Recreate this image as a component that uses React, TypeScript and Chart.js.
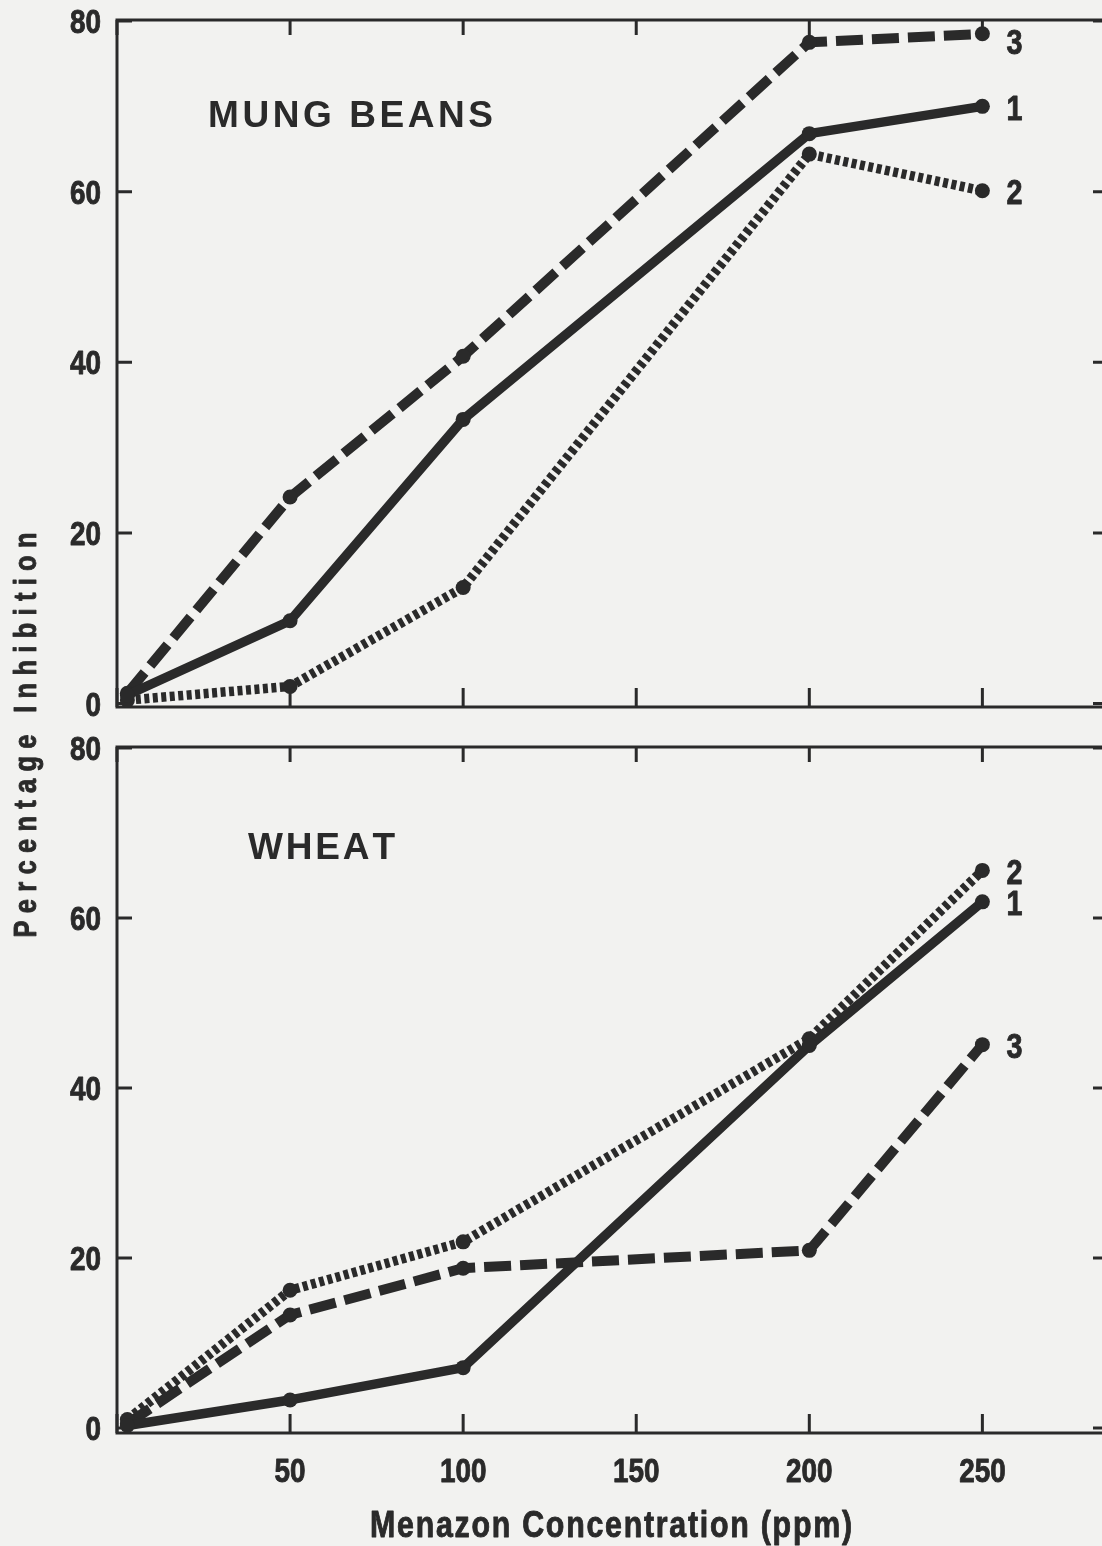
import React, { useEffect, useRef } from 'react';
import { Chart, registerables } from 'chart.js';

Chart.register(...registerables);

// ---------- data ----------
const CONCENTRATIONS = [3, 50, 100, 200, 250];
const MUNG_SERIES_1 = [1.0, 9.7, 33.3, 66.8, 70.0];
const MUNG_SERIES_2 = [0.4, 2.0, 13.6, 64.4, 60.1];
const MUNG_SERIES_3 = [1.2, 24.2, 40.7, 77.5, 78.5];
const WHEAT_SERIES_1 = [0.3, 3.3, 7.1, 45.0, 61.9];
const WHEAT_SERIES_2 = [1.0, 16.2, 21.9, 45.8, 65.6];
const WHEAT_SERIES_3 = [0.5, 13.3, 18.8, 20.9, 45.1];
const SERIES_LABELS = ['1', '2', '3'];
const X_TICKS = [0, 50, 100, 150, 200, 250];
const X_TICK_LABELS = ['', '50', '100', '150', '200', '250'];
const Y_TICKS = [0, 20, 40, 60, 80];
const Y_TICK_LABELS = ['0', '20', '40', '60', '80'];
const PANEL_TITLES = ['MUNG BEANS', 'WHEAT'];
const X_TITLE = 'Menazon Concentration (ppm)';
const Y_TITLE = 'Percentage Inhibition';

// ---------- styles ----------
const INK = '#2a2a2a';
const PAPER = '#f2f2f0';
const SANS = "'Liberation Sans', Arial, sans-serif";
const NARROW_SX = 0.82;
const CANVAS_W = 1130;
const CANVAS_H = 1546;
const LINE_STYLES = [
  { width: 9.5, dash: [] as number[] },
  { width: 9.5, dash: [5, 3.5] },
  { width: 10, dash: [27, 9] },
];

type Align = 'left' | 'center' | 'right';

function drawText(
  ctx: CanvasRenderingContext2D,
  text: string,
  x: number,
  y: number,
  font: string,
  sx: number,
  align: Align,
  target?: number,
  bolden = 0
) {
  ctx.save();
  ctx.font = font;
  ctx.textBaseline = 'alphabetic';
  ctx.strokeStyle = INK;
  ctx.lineWidth = bolden;
  ctx.lineJoin = 'round';
  ctx.translate(x, y);
  ctx.scale(sx, 1);
  const paint = (s: string, px: number) => {
    ctx.fillText(s, px, 0);
    if (bolden > 0) ctx.strokeText(s, px, 0);
  };
  if (!target) {
    ctx.textAlign = align;
    paint(text, 0);
    ctx.restore();
    return;
  }
  const chars = Array.from(text);
  const widths = chars.map((c) => ctx.measureText(c).width);
  const natural = widths.reduce((a, b) => a + b, 0);
  const total = target / sx;
  const gap = chars.length > 1 ? (total - natural) / (chars.length - 1) : 0;
  let cx = align === 'center' ? -total / 2 : align === 'right' ? -total : 0;
  ctx.textAlign = 'left';
  chars.forEach((c, i) => {
    paint(c, cx);
    cx += widths[i] + gap;
  });
  ctx.restore();
}

function makeConfig(series: number[][], panel: number) {
  const isBottom = panel === 1;
  const yRange = isBottom ? { min: -0.59, max: 80.12 } : { min: -0.41, max: 80.12 };
  const TICK_SIZE = 34;
  const DIGIT_H = 0.716 * TICK_SIZE;

  const framePlugin = {
    id: 'frame' + panel,
    beforeDatasetsDraw(chart: any) {
      const { ctx, chartArea: a, scales } = chart;
      ctx.save();
      ctx.strokeStyle = INK;
      ctx.lineWidth = 3;
      ctx.lineCap = 'butt';
      ctx.strokeRect(a.left, a.top, a.right - a.left, a.bottom - a.top);
      ctx.beginPath();
      scales.x.ticks.forEach((t: any) => {
        const px = scales.x.getPixelForValue(t.value);
        ctx.moveTo(px, a.top);
        ctx.lineTo(px, a.top + 15);
        ctx.moveTo(px, a.bottom);
        ctx.lineTo(px, a.bottom - 19);
      });
      scales.y.ticks.forEach((t: any) => {
        const py = scales.y.getPixelForValue(t.value);
        ctx.moveTo(a.left, py);
        ctx.lineTo(a.left + 15, py);
        ctx.moveTo(a.right, py);
        ctx.lineTo(a.right - 14, py);
      });
      ctx.stroke();
      ctx.restore();
    },
    afterDatasetsDraw(chart: any) {
      const { ctx, chartArea: a, scales } = chart;
      ctx.save();
      ctx.fillStyle = INK;
      const tickFont = `bold ${TICK_SIZE}px ${SANS}`;
      // y tick labels from the scale
      scales.y.ticks.forEach((t: any) => {
        const py = scales.y.getPixelForValue(t.value);
        const label = Y_TICK_LABELS[Y_TICKS.indexOf(t.value)] ?? '';
        drawText(ctx, label, a.left - 16, py + DIGIT_H / 2, tickFont, NARROW_SX, 'right', undefined, 0.9);
      });
      // x tick labels (bottom panel only)
      if (isBottom) {
        scales.x.ticks.forEach((t: any) => {
          const px = scales.x.getPixelForValue(t.value);
          const label = X_TICK_LABELS[X_TICKS.indexOf(t.value)] ?? '';
          drawText(ctx, label, px, a.bottom + 49, tickFont, NARROW_SX, 'center', undefined, 0.9);
        });
      }
      // series end labels
      chart.data.datasets.forEach((ds: any, i: number) => {
        const meta = chart.getDatasetMeta(i);
        const last = meta.data[meta.data.length - 1];
        const cy = Math.max(last.y + 1, a.top + 21);
        drawText(ctx, ds.label, last.x + 24, cy + 12.5, `bold 35px ${SANS}`, NARROW_SX, 'left', undefined, 0.9);
      });
      // panel title
      if (isBottom) {
        drawText(ctx, PANEL_TITLES[1], a.left + 131, a.top + 98 + 13.5, `bold 37px ${SANS}`, 1, 'left', 147);
      } else {
        drawText(ctx, PANEL_TITLES[0], a.left + 91, a.top + 93 + 13.5, `bold 37px ${SANS}`, 1, 'left', 285);
      }
      // axis titles
      if (isBottom) {
        drawText(ctx, X_TITLE, 611, 1537, `bold 37px ${SANS}`, NARROW_SX, 'center', 482, 0.9);
      } else {
        ctx.save();
        ctx.translate(36, 735);
        ctx.rotate(-Math.PI / 2);
        drawText(ctx, Y_TITLE, 0, 0, `bold 31px ${SANS}`, NARROW_SX, 'center', 405, 0.9);
        ctx.restore();
      }
      ctx.restore();
    },
  };

  return {
    type: 'line' as const,
    data: {
      datasets: series.map((vals, i) => ({
        label: SERIES_LABELS[i],
        data: CONCENTRATIONS.map((c, j) => ({ x: c, y: vals[j] })),
        borderColor: INK,
        backgroundColor: INK,
        borderWidth: LINE_STYLES[i].width,
        borderDash: LINE_STYLES[i].dash,
        borderCapStyle: 'butt',
        borderJoinStyle: 'round',
        pointRadius: 7.5,
        pointHoverRadius: 7.5,
        pointBackgroundColor: INK,
        pointBorderWidth: 0,
        tension: 0,
        fill: false,
        clip: 12,
      })),
    },
    options: {
      animation: false,
      responsive: false,
      maintainAspectRatio: false,
      devicePixelRatio: 1,
      events: [],
      layout: {
        padding: isBottom
          ? { top: 747, right: 23, bottom: 0, left: 0 }
          : { top: 20, right: 23, bottom: 839, left: 0 },
      },
      plugins: {
        legend: { display: false },
        tooltip: { enabled: false },
        title: { display: false },
      },
      scales: {
        x: {
          type: 'linear',
          min: 0,
          max: 286,
          grid: { display: false, drawTicks: false },
          border: { display: false },
          ticks: { display: false, autoSkip: false },
          afterBuildTicks: (s: any) => {
            s.ticks = X_TICKS.map((v) => ({ value: v }));
          },
          afterFit: (s: any) => {
            s.height = isBottom ? 113 : 0;
            s.paddingLeft = 0;
            s.paddingRight = 0;
          },
        },
        y: {
          type: 'linear',
          min: yRange.min,
          max: yRange.max,
          grid: { display: false, drawTicks: false },
          border: { display: false },
          ticks: { display: false, autoSkip: false },
          afterBuildTicks: (s: any) => {
            s.ticks = Y_TICKS.map((v) => ({ value: v }));
          },
          afterFit: (s: any) => {
            s.width = 117;
            s.paddingTop = 0;
            s.paddingBottom = 0;
          },
        },
      },
    },
    plugins: [framePlugin],
  };
}

export default function App() {
  const topRef = useRef<HTMLCanvasElement | null>(null);
  const bottomRef = useRef<HTMLCanvasElement | null>(null);

  useEffect(() => {
    if (!topRef.current || !bottomRef.current) return;
    const top = new Chart(topRef.current, makeConfig([MUNG_SERIES_1, MUNG_SERIES_2, MUNG_SERIES_3], 0) as any);
    const bottom = new Chart(bottomRef.current, makeConfig([WHEAT_SERIES_1, WHEAT_SERIES_2, WHEAT_SERIES_3], 1) as any);
    return () => {
      top.destroy();
      bottom.destroy();
    };
  }, []);

  const canvasStyle: React.CSSProperties = {
    position: 'absolute',
    left: 0,
    top: 0,
    width: CANVAS_W,
    height: CANVAS_H,
  };

  return (
    <div
      style={{
        position: 'absolute',
        left: 0,
        top: 0,
        width: 1102,
        height: 1546,
        overflow: 'hidden',
        background: PAPER,
      }}
    >
      <canvas ref={topRef} width={CANVAS_W} height={CANVAS_H} style={canvasStyle} />
      <canvas ref={bottomRef} width={CANVAS_W} height={CANVAS_H} style={canvasStyle} />
    </div>
  );
}
